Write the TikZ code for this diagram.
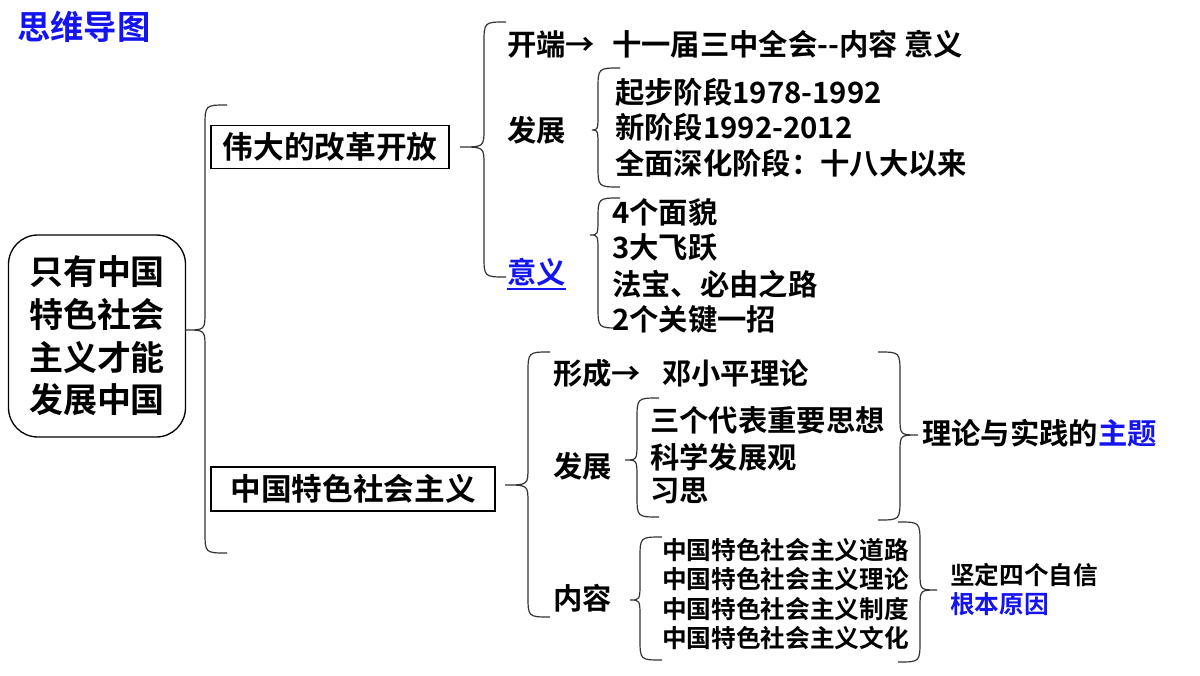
\documentclass[tikz,border=0pt]{standalone}
\usepackage{fontspec}
\setmainfont{Noto Sans CJK SC}[BoldFont=Noto Sans CJK SC Bold]
\definecolor{tblue}{RGB}{20,20,240}
\newcommand\mybr[5]{% arm x, tip x, top y, tip y, bottom y
 \draw[brc] ({#1+(#1<#2?-22:22)},#3) .. controls (#1,#3) .. (#1,{#3+22}) -- (#1,{#4-18}) .. controls (#1,#4) .. (#2,#4) .. controls (#1,#4) .. (#1,{#4+18}) -- (#1,{#5-22}) .. controls (#1,#5) .. ({#1+(#1<#2?-22:22)},#5);}
\begin{document}
\begin{tikzpicture}[x=0.75pt,y=-0.75pt,
  brc/.style={line width=0.9pt,black!80},
  txt/.style={anchor=west,inner sep=0pt,font=\bfseries\fontsize{22pt}{26pt}\selectfont},
  small/.style={anchor=west,inner sep=0pt,font=\bfseries\fontsize{18.5pt}{22pt}\selectfont},
  boxed/.style={draw,line width=1.2pt,inner sep=0pt,font=\bfseries\fontsize{23pt}{26pt}\selectfont}]
\useasboundingbox (0,0) rectangle (1200,675);
\node[txt,font=\bfseries\fontsize{25pt}{28pt}\selectfont,text=tblue] (title) at (17,27) {思维导图};
\node[draw,line width=1pt,rounded corners=22pt,minimum width=177*0.75pt,minimum height=202*0.75pt,align=center,font=\bfseries\fontsize{25.5pt}{32pt}\selectfont] (root) at (97,336) {只有中国\\特色社会\\主义才能\\发展中国};
\mybr{205}{185}{105}{330}{553}
\node[boxed,minimum width=238*0.75pt,minimum height=43*0.75pt] (b1) at (330,147) {伟大的改革开放};
\node[boxed,minimum width=284*0.75pt,minimum height=44*0.75pt] (b2) at (353,489) {中国特色社会主义};
\mybr{484}{460}{22}{147}{277}
\node[txt] (ks) at (507,44) {开端→};
\node[txt] (ksv) at (612,44) {十一届三中全会-{}-内容 意义};
\node[txt] (fz1) at (507,130) {发展};
\mybr{598}{592}{68}{130}{187}
\node[txt] (f1) at (615,92) {起步阶段1978-1992};
\node[txt] (f2) at (615,127) {新阶段1992-2012};
\node[txt] (f3) at (615,163) {全面深化阶段：十八大以来};
\node[txt,text=tblue] (yy) at (507,272) {意义};
\draw[tblue,line width=1pt] (507,289) -- (566,289);
\mybr{598}{590}{198}{235}{328}
\node[txt] (y1) at (612,212) {4个面貌};
\node[txt] (y2) at (612,247) {3大飞跃};
\node[txt] (y3) at (612,284) {法宝、必由之路};
\node[txt] (y4) at (612,319) {2个关键一招};
\mybr{528}{505}{352}{485}{617}
\node[txt] (xc) at (553,373) {形成→};
\node[txt] (xcv) at (662,373) {邓小平理论};
\node[txt] (fz2) at (553,466) {发展};
\mybr{637}{625}{398}{460}{517}
\node[txt] (d1) at (650,420) {三个代表重要思想};
\node[txt] (d2) at (650,457) {科学发展观};
\node[txt] (d3) at (650,491) {习思};
\mybr{900}{918}{352}{435}{520}
\node[txt] (zt) at (922,433) {理论与实践的\textcolor{tblue}{主题}};
\node[txt] (nr) at (553,598) {内容};
\mybr{640}{630}{537}{600}{660}
\node[small] (n1) at (662,550) {中国特色社会主义道路};
\node[small] (n2) at (662,579) {中国特色社会主义理论};
\node[small] (n3) at (662,609) {中国特色社会主义制度};
\node[small] (n4) at (662,638) {中国特色社会主义文化};
\mybr{920}{937}{522}{590}{662}
\node[small] (jd) at (950,575) {坚定四个自信};
\node[small,text=tblue] (gb) at (950,604) {根本原因};
\end{tikzpicture}
\end{document}
